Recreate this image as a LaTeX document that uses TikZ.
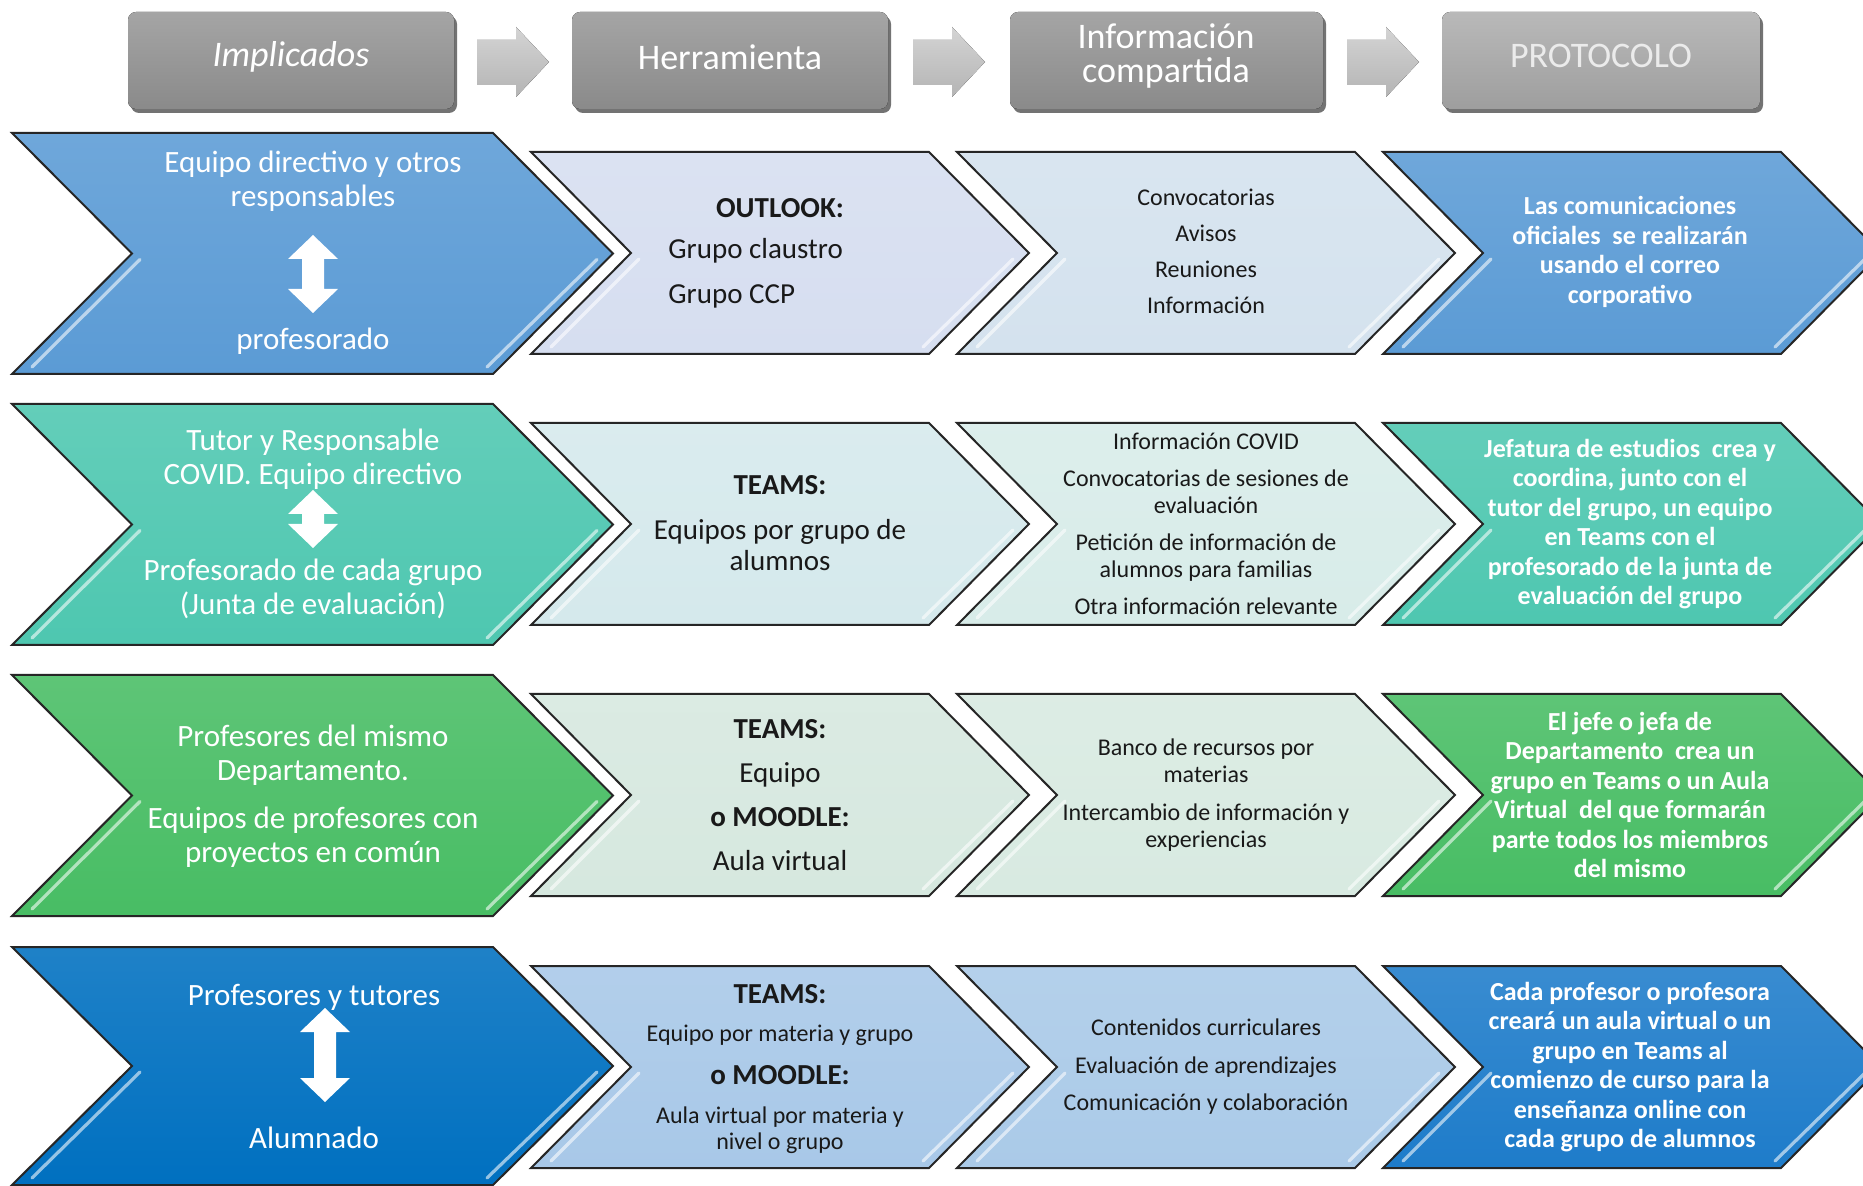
\documentclass[tikz,border=0pt]{standalone}
\usepackage{fontspec}
\setmainfont{Carlito}
\definecolor{rowAbig}{RGB}{91,155,213}
\definecolor{rowAtool}{RGB}{214,222,240}
\definecolor{rowAinfo}{RGB}{212,226,238}
\definecolor{rowBbig}{RGB}{78,199,176}
\definecolor{rowBtool}{RGB}{213,233,236}
\definecolor{rowBinfo}{RGB}{216,236,233}
\definecolor{rowCbig}{RGB}{72,189,100}
\definecolor{rowCtool}{RGB}{214,232,223}
\definecolor{rowCinfo}{RGB}{216,234,225}
\definecolor{rowDbig}{RGB}{0,112,192}
\definecolor{rowDtool}{RGB}{168,200,232}
\definecolor{rowDinfo}{RGB}{170,202,232}
\definecolor{rowDprot}{RGB}{30,124,202}
\definecolor{hdTop}{RGB}{165,165,165}
\definecolor{hdBot}{RGB}{138,138,138}
\definecolor{hdTopL}{RGB}{185,185,185}
\definecolor{hdBotL}{RGB}{158,158,158}
\definecolor{arrTop}{RGB}{212,212,212}
\definecolor{arrBot}{RGB}{180,180,180}
\newcommand{\drawchev}[6]{%
  \filldraw[chevline, top color=#6!88!white, bottom color=#6] (#1,#3) -- (#2,#3) -- ({#2+#5},{(#3+#4)/2}) -- (#2,#4) -- (#1,#4) -- ({#1+#5},{(#3+#4)/2}) -- cycle;
  \draw[hilite, draw=#6!35!white] ({#1+20},{#4-7}) -- ({#1+#5+8},{(#3+#4)/2+6});
  \draw[hilite, draw=#6!35!white] ({#2-6},{#4-7}) -- ({#2+#5-16},{(#3+#4)/2+6});
}
\newcommand{\dblarrow}[3]{%
  \fill[white] (#1,#2) -- ({#1+25},{#2+24}) -- ({#1+11},{#2+24}) -- ({#1+11},{#3-24}) -- ({#1+25},{#3-24}) -- (#1,#3) -- ({#1-25},{#3-24}) -- ({#1-11},{#3-24}) -- ({#1-11},{#2+24}) -- ({#1-25},{#2+24}) -- cycle;
}
\newcommand{\hdrbox}[6]{%
  \fill[black!55, rounded corners=4pt] ({#1+3},{#2+4}) rectangle ({#3+3},{#4+4});
  \fill[rounded corners=4pt, top color=#5, bottom color=#6] (#1,#2) rectangle (#3,#4);
}
\newcommand{\hdrarrow}[1]{%
  \fill[top color=arrTop, bottom color=arrBot] (#1,40) -- ({#1+39},40) -- ({#1+39},27) -- ({#1+72},62) -- ({#1+39},97) -- ({#1+39},85) -- (#1,85) -- cycle;
}
\begin{document}
\begin{tikzpicture}[x=0.5pt, y=-0.5pt,
  chevline/.style={draw=black!85, line width=1pt, line join=miter},
  hilite/.style={line width=1.6pt, line cap=round, opacity=0.9},
  hdtext/.style={text=white, inner sep=0pt, align=center, font=\fontsize{18}{17}\selectfont},
  c1/.style={text=white, inner sep=0pt, align=center, font=\fontsize{15.5}{17.2}\selectfont},
  c2/.style={text=black!90, inner sep=0pt, align=center, font=\fontsize{14.5}{15.5}\selectfont},
  c2b/.style={c2, font=\bfseries\fontsize{14.5}{15.5}\selectfont},
  c2s/.style={c2, font=\fontsize{12}{13}\selectfont},
  c3/.style={text=black!90, inner sep=0pt, align=center, font=\fontsize{12}{13.5}\selectfont},
  c4/.style={text=white, inner sep=0pt, align=center, font=\bfseries\fontsize{13}{14.75}\selectfont}]
\useasboundingbox[fill=white] (0,0) rectangle (1863,1186);

% ---------- header ----------
\hdrbox{128}{12}{454}{109}{hdTop}{hdBot}
\hdrbox{572}{12}{888}{109}{hdTop}{hdBot}
\hdrbox{1010}{12}{1323}{109}{hdTop}{hdBot}
\hdrbox{1442}{12}{1760}{109}{hdTopL}{hdBotL}
\hdrarrow{477}
\hdrarrow{913}
\hdrarrow{1347}
\node[hdtext] (hImp) at (291,57) {\itshape Implicados};
\node[hdtext] (hHer) at (730,57) {Herramienta};
\node[hdtext] (hInf) at (1166,56) {Información\\compartida};
\node[hdtext, text=white!92!black] (hPro) at (1601,56) {PROTOCOLO};

% ---------- row 1 ----------
\drawchev{12}{493}{133}{374}{120}{rowAbig}
\drawchev{531}{929}{152}{354}{100}{rowAtool}
\drawchev{957}{1355}{152}{354}{100}{rowAinfo}
\drawchev{1383}{1781}{152}{354}{100}{rowAbig}
\dblarrow{313}{235}{313}
\node[c1] (r1who) at (313,181) {Equipo directivo y otros\\responsables};
\node[c1] (r1prof) at (313,341) {profesorado};
\node[c2b] (r1tool) at (780,208) {OUTLOOK:};
\node[c2, anchor=west] (r1g1) at (668,251) {Grupo claustro};
\node[c2, anchor=west] (r1g2) at (668,296) {Grupo CCP};
\node[c3] (r1info) at (1206,251) {Convocatorias\\[4.5pt]Avisos\\[4.5pt]Reuniones\\[4.5pt]Información};
\node[c4] (r1prot) at (1630,252) {Las comunicaciones\\oficiales\ \ se realizarán\\usando el correo\\corporativo};

% ---------- row 2 ----------
\drawchev{12}{493}{404}{645}{120}{rowBbig}
\drawchev{531}{929}{423}{625}{100}{rowBtool}
\drawchev{957}{1355}{423}{625}{100}{rowBinfo}
\drawchev{1383}{1781}{423}{625}{100}{rowBbig}
\dblarrow{313}{490}{548}
\node[c1] (r2a) at (313,459) {Tutor y Responsable\\COVID. Equipo directivo};
\node[c1] (r2b) at (313,589) {Profesorado de cada grupo\\(Junta de evaluación)};
\node[c2b] (r2tool) at (780,485) {TEAMS:};
\node[c2] (r2toolb) at (780,545) {Equipos por grupo de\\alumnos};
\node[c3] (r2info) at (1206,524) {Información COVID\\[5pt]Convocatorias de sesiones de\\evaluación\\[5pt]Petición de información de\\alumnos para familias\\[5pt]Otra información relevante};
\node[c4] (r2prot) at (1630,524) {Jefatura de estudios\ \ crea y\\coordina, junto con el\\tutor del grupo, un equipo\\en Teams con el\\profesorado de la junta de\\evaluación del grupo};

% ---------- row 3 ----------
\drawchev{12}{493}{675}{916}{120}{rowCbig}
\drawchev{531}{929}{694}{896}{100}{rowCtool}
\drawchev{957}{1355}{694}{896}{100}{rowCinfo}
\drawchev{1383}{1781}{694}{896}{100}{rowCbig}
\node[c1] (r3a) at (313,755) {Profesores del mismo\\Departamento.};
\node[c1] (r3b) at (313,837) {Equipos de profesores con\\proyectos en común};
\node[c2] (r3tool) at (780,795) {\textbf{TEAMS:}\\[6.5pt]Equipo\\[6.5pt]\textbf{o MOODLE:}\\[6.5pt]Aula virtual};
\node[c3] (r3info) at (1206,795) {Banco de recursos por\\materias\\[5.5pt]Intercambio de información y\\experiencias};
\node[c4] (r3prot) at (1630,795) {El jefe o jefa de\\Departamento\ \ crea un\\grupo en Teams o un Aula\\Virtual\ \ del que formarán\\parte todos los miembros\\del mismo};

% ---------- row 4 ----------
\drawchev{12}{493}{947}{1185}{120}{rowDbig}
\drawchev{531}{929}{966}{1168}{100}{rowDtool}
\drawchev{957}{1355}{966}{1168}{100}{rowDinfo}
\drawchev{1383}{1781}{966}{1168}{100}{rowDprot}
\dblarrow{325}{1008}{1102}
\node[c1] (r4a) at (314,997) {Profesores y tutores};
\node[c1] (r4b) at (314,1138) {Alumnado};
\node[c2b] (r4t1) at (780,994) {TEAMS:};
\node[c2s] (r4t2) at (780,1035) {Equipo por materia y grupo};
\node[c2b] (r4t3) at (780,1075) {o MOODLE:};
\node[c2s] (r4t4) at (780,1130) {Aula virtual por materia y\\nivel o grupo};
\node[c3] (r4info) at (1206,1067) {Contenidos curriculares\\[5.25pt]Evaluación de aprendizajes\\[5.25pt]Comunicación y colaboración};
\node[c4] (r4prot) at (1630,1067) {Cada profesor o profesora\\creará un aula virtual o un\\grupo en Teams al\\comienzo de curso para la\\enseñanza online con\\cada grupo de alumnos};
\end{tikzpicture}
\end{document}
